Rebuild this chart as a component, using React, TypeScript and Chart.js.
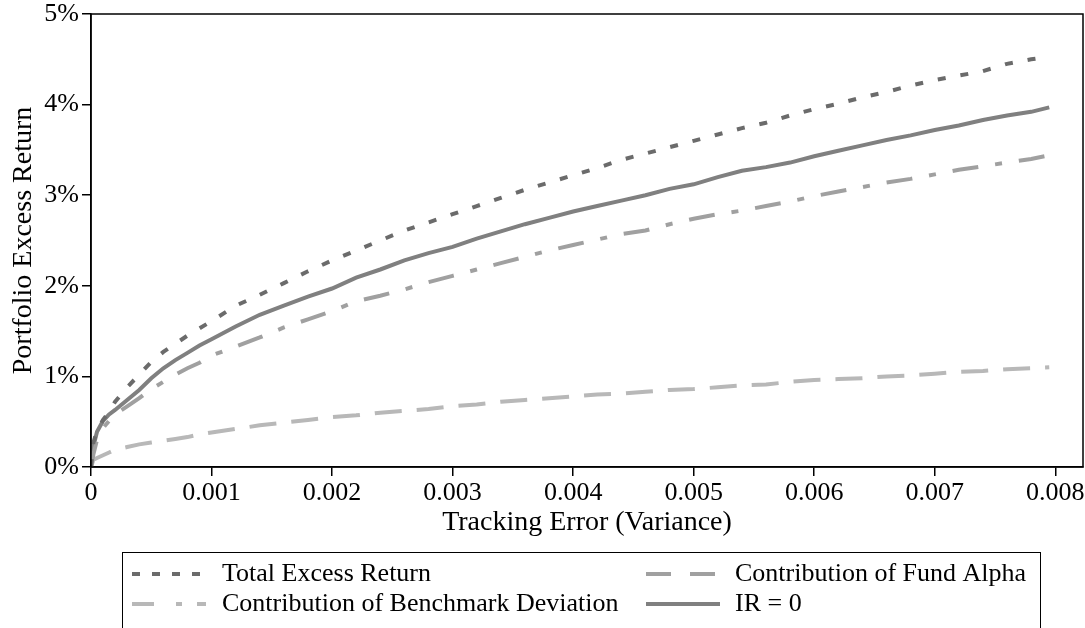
import React, { useEffect, useRef } from "react";
import { Chart, registerables } from "chart.js";

Chart.register(...registerables);

const xValues = [0, 0.00002, 0.00005, 0.0001, 0.00015, 0.0002, 0.0003, 0.0004, 0.0005, 0.0006, 0.0007, 0.0008, 0.0009, 0.001,
  0.0012, 0.0014, 0.0016, 0.0018, 0.002, 0.0022, 0.0024, 0.0026, 0.0028, 0.003, 0.0032, 0.0034, 0.0036, 0.0038, 0.004,
  0.0042, 0.0044, 0.0046, 0.0048, 0.005, 0.0052, 0.0054, 0.0056, 0.0058, 0.006, 0.0062, 0.0064, 0.0066, 0.0068, 0.007,
  0.0072, 0.0074, 0.0076, 0.0078, 0.00795];

const totalExcess = [0, 0.27, 0.4, 0.52, 0.61, 0.72, 0.88, 1.02, 1.16, 1.27, 1.36, 1.45, 1.53, 1.61,
  1.78, 1.9, 2.03, 2.16, 2.28, 2.39, 2.5, 2.61, 2.7, 2.79, 2.88, 2.97, 3.06, 3.14, 3.22,
  3.3, 3.39, 3.46, 3.53, 3.6, 3.67, 3.74, 3.8, 3.88, 3.95, 4.01, 4.08, 4.14, 4.21, 4.27,
  4.32, 4.37, 4.45, 4.5, 4.53];

const fundAlpha = [0, 0.14, 0.3, 0.43, 0.51, 0.58, 0.67, 0.76, 0.86, 0.94, 1.02, 1.09, 1.15, 1.23,
  1.33, 1.43, 1.54, 1.63, 1.72, 1.83, 1.89, 1.96, 2.04, 2.11, 2.18, 2.25, 2.32, 2.39, 2.45,
  2.51, 2.57, 2.61, 2.68, 2.74, 2.79, 2.83, 2.88, 2.93, 2.99, 3.04, 3.09, 3.14, 3.18, 3.23,
  3.28, 3.32, 3.36, 3.4, 3.44];

const benchmarkDev = [0, 0.08, 0.1, 0.13, 0.16, 0.19, 0.22, 0.25, 0.27, 0.29, 0.31, 0.33, 0.36, 0.38,
  0.42, 0.46, 0.49, 0.52, 0.55, 0.57, 0.6, 0.62, 0.64, 0.67, 0.69, 0.72, 0.74, 0.76, 0.78,
  0.8, 0.81, 0.83, 0.85, 0.86, 0.88, 0.9, 0.91, 0.94, 0.96, 0.97, 0.98, 1.0, 1.01, 1.03,
  1.05, 1.06, 1.08, 1.09, 1.1];

const irZero = [0, 0.23, 0.39, 0.51, 0.58, 0.63, 0.74, 0.85, 0.98, 1.09, 1.18, 1.26, 1.34, 1.41,
  1.55, 1.68, 1.78, 1.88, 1.97, 2.09, 2.18, 2.28, 2.36, 2.43, 2.52, 2.6, 2.68, 2.75, 2.82,
  2.88, 2.94, 3.0, 3.07, 3.12, 3.2, 3.27, 3.31, 3.36, 3.43, 3.49, 3.55, 3.61, 3.66, 3.72,
  3.77, 3.83, 3.88, 3.92, 3.97];

const seriesLabels = ["Total Excess Return", "Contribution of Fund Alpha", "Contribution of Benchmark Deviation", "IR = 0"];
const xTickValues = [0, 0.001, 0.002, 0.003, 0.004, 0.005, 0.006, 0.007, 0.008];
const yTickValues = [0, 1, 2, 3, 4, 5];

const FONT = "'Liberation Serif', 'Times New Roman', serif";

const toPts = (ys: number[]) => xValues.map((x, i) => ({ x, y: ys[i] }));

const legendItems = [
  { label: seriesLabels[0], color: "#6b6b6b", dash: [8, 12], col: 0, row: 0 },
  { label: seriesLabels[1], color: "#a0a0a0", dash: [25, 19], col: 1, row: 0 },
  { label: seriesLabels[2], color: "#b8b8b8", dash: [22, 22, 6, 15, 9, 100], col: 0, row: 1 },
  { label: seriesLabels[3], color: "#808080", dash: [], col: 1, row: 1 },
];

const frameAndLegend = {
  id: "frameAndLegend",
  afterDraw(chart: any) {
    const { ctx, chartArea } = chart;
    ctx.save();
    // frame
    ctx.strokeStyle = "#000";
    ctx.lineWidth = 1.5;
    ctx.strokeRect(chartArea.left, chartArea.top, chartArea.right - chartArea.left, chartArea.bottom - chartArea.top);
    // legend box
    ctx.lineWidth = 1;
    ctx.strokeRect(122.5, 552.5, 918, 120);
    const colX = [132, 646];
    const textX = [222, 735];
    const rowY = [574, 604];
    ctx.font = `26px ${FONT}`;
    ctx.textBaseline = "middle";
    ctx.textAlign = "left";
    for (const it of legendItems) {
      const x0 = colX[it.col];
      const y = rowY[it.row];
      ctx.beginPath();
      ctx.setLineDash(it.dash);
      ctx.strokeStyle = it.color;
      ctx.lineWidth = 4;
      ctx.moveTo(x0, y);
      ctx.lineTo(x0 + 74, y);
      ctx.stroke();
      ctx.setLineDash([]);
      ctx.fillStyle = "#000";
      ctx.fillText(it.label, textX[it.col], y);
    }
    ctx.restore();
  },
};

export default function App() {
  const canvasRef = useRef<HTMLCanvasElement | null>(null);

  useEffect(() => {
    if (!canvasRef.current) return;
    const chart = new Chart(canvasRef.current, {
      type: "line",
      data: {
        datasets: [
          {
            label: seriesLabels[3],
            data: toPts(irZero),
            borderColor: "#808080",
            borderWidth: 4,
            pointRadius: 0,
            tension: 0,
            order: 4,
          },
          {
            label: seriesLabels[2],
            data: toPts(benchmarkDev),
            borderColor: "#b8b8b8",
            borderWidth: 4,
            borderDash: [27, 15],
            pointRadius: 0,
            tension: 0,
            order: 3,
          },
          {
            label: seriesLabels[1],
            data: toPts(fundAlpha),
            borderColor: "#a0a0a0",
            borderWidth: 4,
            borderDash: [26, 17, 7, 17],
            pointRadius: 0,
            tension: 0,
            order: 2,
          },
          {
            label: seriesLabels[0],
            data: toPts(totalExcess),
            borderColor: "#6b6b6b",
            borderWidth: 4,
            borderDash: [8, 15],
            pointRadius: 0,
            tension: 0,
            order: 1,
          },
        ],
      },
      options: {
        animation: false,
        responsive: true,
        maintainAspectRatio: false,
        layout: { padding: { top: 14, right: 2, bottom: 89, left: 0 } },
        plugins: { legend: { display: false }, tooltip: { enabled: false } },
        scales: {
          x: {
            type: "linear",
            min: 0,
            max: 0.00823,
            afterBuildTicks: (s: any) => {
              s.ticks = xTickValues.map((v) => ({ value: v }));
            },
            afterFit: (s: any) => {
              s.height = 72;
              s.paddingLeft = 0;
              s.paddingRight = 0;
            },
            grid: { drawOnChartArea: false, drawTicks: true, tickLength: 9, color: "#000", lineWidth: 1.5 },
            border: { color: "#000", width: 1.5 },
            ticks: {
              color: "#000",
              padding: 2,
              maxRotation: 0,
              autoSkip: false,
              font: { family: FONT, size: 26 },
              callback: (v: any) => (Number(v) === 0 ? "0" : Number(v).toFixed(3)),
            },
            title: {
              display: true,
              text: "Tracking Error (Variance)",
              color: "#000",
              font: { family: FONT, size: 28 },
              padding: { top: 0, bottom: 0 },
            },
          },
          y: {
            type: "linear",
            min: 0,
            max: 5,
            afterBuildTicks: (s: any) => {
              s.ticks = yTickValues.map((v) => ({ value: v }));
            },
            afterFit: (s: any) => {
              s.width = 91;
              s.paddingTop = 0;
              s.paddingBottom = 0;
            },
            grid: { drawOnChartArea: false, drawTicks: true, tickLength: 9, color: "#000", lineWidth: 1.5 },
            border: { color: "#000", width: 1.5 },
            ticks: {
              color: "#000",
              padding: 3,
              font: { family: FONT, size: 26 },
              callback: (v: any) => `${v}%`,
            },
            title: {
              display: true,
              text: "Portfolio Excess Return",
              color: "#000",
              font: { family: FONT, size: 28 },
              padding: { top: 7, bottom: 0 },
            },
          },
        },
      },
      plugins: [frameAndLegend],
    } as any);
    return () => chart.destroy();
  }, []);

  return (
    <div style={{ position: "fixed", left: 0, top: 0, width: 1085, height: 628, background: "#fff" }}>
      <canvas ref={canvasRef} />
    </div>
  );
}
